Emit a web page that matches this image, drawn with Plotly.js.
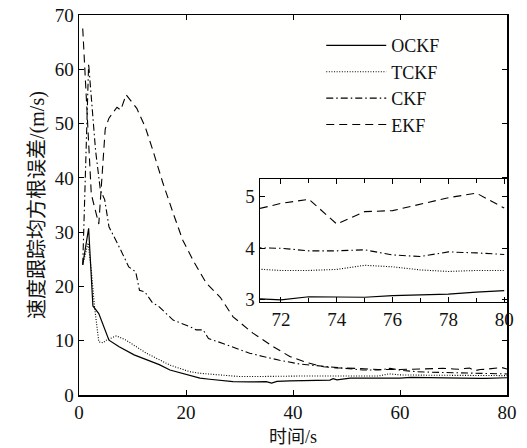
<!DOCTYPE html>
<html>
<head>
<meta charset="utf-8">
<script src="https://cdn.plot.ly/plotly-3.0.1.min.js"></script>
<style>html,body{margin:0;padding:0;background:#fff;}#chart{width:527px;height:448px;}</style>
</head>
<body>
<div id="chart"></div>
<script>
// Series names
const seriesNames = ["OCKF", "TCKF", "CKF", "EKF"];

// OCKF (solid)
const tOCKF = [0.7, 1.8, 2.6, 3.7, 5.6, 7.5, 10.3, 12.4, 15, 17, 20, 22.6, 24.4, 26.5, 28.8, 32, 35, 36, 37, 39.4, 43, 46.9, 47.5, 48.2, 50.7, 55, 60, 62, 66, 70, 71, 72, 73, 74, 75, 76, 77, 78, 79, 80];
const vOCKF = [24, 30.7, 16.4, 15, 10.1, 8.9, 7.4, 6.6, 5.6, 4.6, 3.8, 3.1, 2.9, 2.7, 2.45, 2.4, 2.45, 2.2, 2.5, 2.6, 2.7, 2.75, 3.0, 2.8, 3.1, 3.1, 3.1, 3.25, 3.15, 3.05, 3.03, 3.0, 3.06, 3.06, 3.05, 3.08, 3.09, 3.11, 3.15, 3.18];

// TCKF (dotted)
const tTCKF = [0.7, 1.7, 2.3, 2.9, 3.7, 4.5, 5.1, 7, 8.8, 12.6, 17, 20.7, 22.6, 25.7, 30, 33, 41, 42, 50, 56, 58, 60, 65, 70, 71, 72, 73, 74, 75, 76, 77, 78, 79, 80];
const vTCKF = [24, 28, 23, 16.3, 9.8, 9.6, 10.1, 10.9, 10.1, 7.7, 5.5, 4.3, 4.0, 3.7, 3.4, 3.4, 3.37, 3.5, 3.5, 3.5, 3.9, 3.7, 3.65, 3.6, 3.6, 3.57, 3.57, 3.59, 3.67, 3.64, 3.58, 3.55, 3.57, 3.57];

// CKF (dash-dot)
const tCKF = [0.7, 1.8, 3.1, 4, 4.8, 5.6, 7.8, 9.3, 10.6, 11.3, 12.3, 13.8, 14.7, 16.3, 17.6, 20.7, 21.9, 23.2, 24.2, 26.9, 29.5, 31.9, 34.4, 37.5, 41.3, 45.7, 49.4, 53.1, 56, 58.1, 60.6, 63, 66, 70, 71, 72, 73, 74, 75, 76, 77, 78, 79, 80];
const vCKF = [24, 61, 45, 37.7, 36, 31, 26.7, 23.6, 22.7, 19.3, 19, 16.9, 16.5, 15, 13.8, 12.6, 12, 12, 10.4, 9.5, 8.6, 7.7, 7.1, 6.4, 5.7, 5.3, 4.9, 4.6, 4.6, 4.9, 4.5, 4.3, 4.2, 4.1, 4.01, 4.0, 3.95, 3.95, 3.97, 3.87, 3.84, 3.93, 3.91, 3.88];

// EKF (dashed)
const tEKF = [0.7, 2.3, 3.7, 4.9, 5.6, 7.1, 7.8, 8.8, 10.8, 12.4, 13.8, 15.7, 17.6, 19.4, 21.6, 23.8, 26.4, 28.8, 32.5, 36.3, 39.4, 42.5, 45.7, 48, 52, 56, 60, 64, 68, 70, 71, 72, 73, 74, 75, 76, 77, 78, 79, 80];
const vEKF = [67.5, 37, 31.5, 49, 51, 53, 52.5, 55.3, 52.8, 49.3, 45.1, 39, 33.5, 28.5, 24.3, 20.6, 18, 14.4, 11.4, 8.9, 7.1, 6.0, 5.2, 5.0, 4.9, 4.7, 4.7, 4.8, 4.9, 4.8, 4.74, 4.87, 4.95, 4.47, 4.71, 4.73, 4.85, 4.98, 5.07, 4.78];

// Tick labels
const mainXTicks = [0, 20, 40, 60, 80];
const mainYTicks = [0, 10, 20, 30, 40, 50, 60, 70];
const insetXTicks = [72, 74, 76, 78, 80];
const insetYTicks = [3, 4, 5];

const xTitleCJK = "时间";
const xTitleUnit = "/s";
const yTitleCJK = "速度跟踪均方根误差";
const yTitleUnit = "/(m/s)";

const serif = '"Liberation Serif", "Times New Roman", "DejaVu Serif", serif';
const cjk = '"Noto Sans CJK SC", sans-serif';

const styles = {
  OCKF: {dash: "solid", width: 1.2},
  TCKF: {dash: "1px,1.6px", width: 1.1},
  CKF: {dash: "7px,3px,1.5px,3px", width: 1.1},
  EKF: {dash: "8px,5px", width: 1.1}
};
const dataMap = {
  OCKF: [tOCKF, vOCKF],
  TCKF: [tTCKF, vTCKF],
  CKF: [tCKF, vCKF],
  EKF: [tEKF, vEKF]
};

const traces = [];
seriesNames.forEach(name => {
  const [t, v] = dataMap[name];
  traces.push({
    x: t, y: v, type: "scatter", mode: "lines", name: name,
    line: {color: "#000", width: styles[name].width, dash: styles[name].dash},
    xaxis: "x", yaxis: "y", showlegend: true, hoverinfo: "skip"
  });
});
seriesNames.forEach(name => {
  const [t, v] = dataMap[name];
  traces.push({
    x: t, y: v, type: "scatter", mode: "lines", name: name,
    line: {color: "#000", width: styles[name].width, dash: styles[name].dash},
    xaxis: "x2", yaxis: "y2", showlegend: false, hoverinfo: "skip"
  });
});

const axisCommon = {
  showline: true, linecolor: "#000", linewidth: 1.5, mirror: "ticks",
  ticks: "inside", ticklen: 5, tickwidth: 1, tickcolor: "#000",
  showgrid: false, zeroline: false,
  tickfont: {family: serif, size: 19, color: "#111"}
};

const unitSpan = s => '<span style="font-family:\'Liberation Serif\'">' + s + '</span>';

const layout = {
  width: 527, height: 448,
  margin: {l: 79, r: 20, t: 15, b: 53},
  paper_bgcolor: "#ffffff",
  plot_bgcolor: "#fffffe",
  showlegend: true,
  legend: {
    x: 0.566, y: 0.968, xanchor: "left", yanchor: "top",
    bgcolor: "rgba(0,0,0,0)", borderwidth: 0,
    font: {family: serif, size: 18, color: "#111"},
    tracegroupgap: 0, itemwidth: 60
  },
  xaxis: Object.assign({}, axisCommon, {
    domain: [0, 1], range: [0, 80], tickmode: "array", tickvals: mainXTicks,
    ticktext: mainXTicks.map(String), anchor: "y",
    title: {text: xTitleCJK + unitSpan(xTitleUnit), font: {family: cjk, size: 18, color: "#111"}, standoff: 6}
  }),
  yaxis: Object.assign({}, axisCommon, {
    domain: [0, 1], range: [0, 70], tickmode: "array", tickvals: mainYTicks,
    ticktext: mainYTicks.map(String), anchor: "x",
    title: {text: yTitleCJK + unitSpan(yTitleUnit), font: {family: cjk, size: 20, color: "#111"}, standoff: 4}
  }),
  xaxis2: Object.assign({}, axisCommon, {
    domain: [0.423, 1], range: [71.25, 80.1], tickmode: "array", tickvals: insetXTicks,
    ticktext: insetXTicks.map(String), anchor: "y2",
    minor: {dtick: 1, tick0: 0, ticks: "inside", ticklen: 4, tickcolor: "#000"}
  }),
  yaxis2: Object.assign({}, axisCommon, {
    domain: [0.245, 0.568], range: [2.96, 5.34], tickmode: "array", tickvals: insetYTicks,
    ticktext: insetYTicks.map(String), anchor: "x2"
  })
};

Plotly.newPlot("chart", traces, layout, {staticPlot: true, displayModeBar: false});
</script>
</body>
</html>
